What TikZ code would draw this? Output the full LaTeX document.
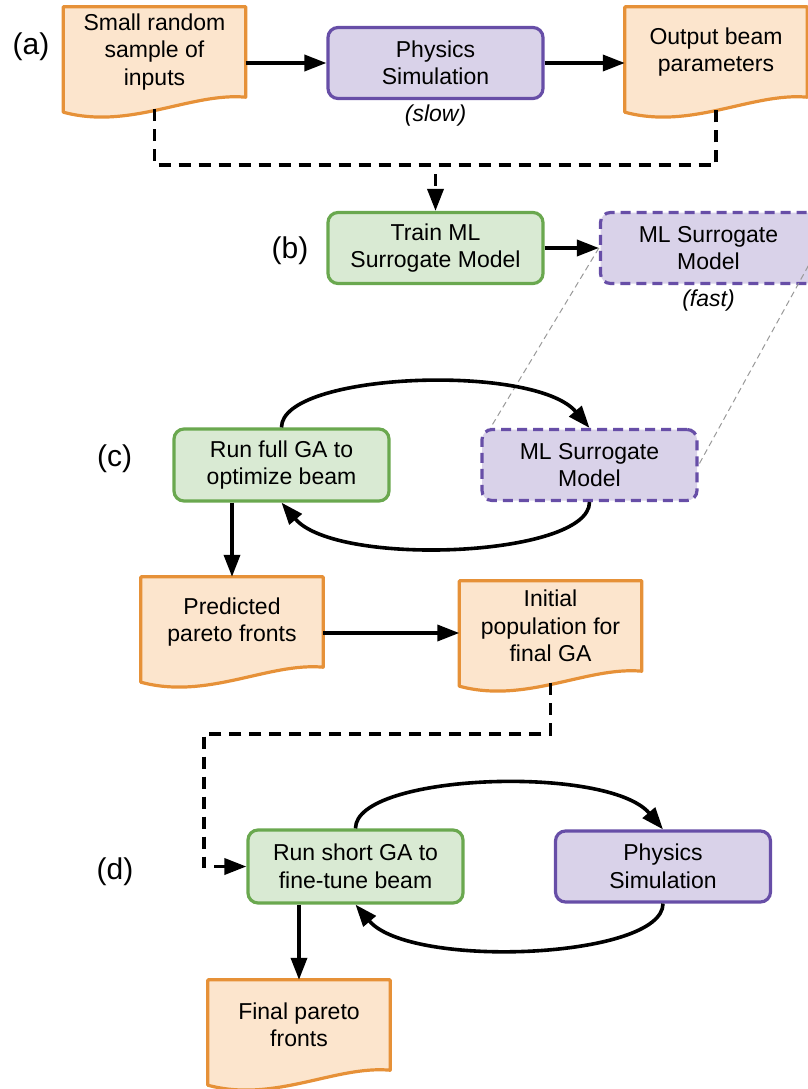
\documentclass[tikz,border=0pt]{standalone}
\usepackage{fontspec}
\setmainfont{Liberation Sans}
\usetikzlibrary{positioning,arrows.meta,backgrounds}
\definecolor{orfill}{HTML}{FCE5CD}
\definecolor{ordraw}{HTML}{E69138}
\definecolor{grfill}{HTML}{D9EAD3}
\definecolor{grdraw}{HTML}{6AA84F}
\definecolor{pufill}{HTML}{D9D2E9}
\definecolor{pudraw}{HTML}{674EA7}
\begin{document}
\begin{tikzpicture}[x=1pt,y=-1pt,
  box/.style = {rectangle, rounded corners=10pt, line width=3.2pt, minimum width=215pt, minimum height=71pt, align=center, font=\fontsize{23}{27.5}\selectfont},
  gabox/.style = {box, draw=grdraw, fill=grfill},
  simbox/.style = {box, draw=pudraw, fill=pufill},
  docbox/.style = {rectangle, minimum width=182pt, minimum height=90pt, align=center, font=\fontsize{23}{27.5}\selectfont},
  arr/.style = {line width=3.6pt, -{Triangle[length=22pt,width=16pt]}},
  dashln/.style = {line width=3.6pt, dash pattern=on 12pt off 8pt},
  greyln/.style = {line width=1pt, black!40, dash pattern=on 6pt off 4pt},
  tag/.style = {font=\fontsize{30}{36}\selectfont},
  note/.style = {font=\fontsize{23}{27.5}\selectfont\itshape}]
\useasboundingbox (0,0) rectangle (808,1089);
\clip (0,0) rectangle (808,1089);
\node[docbox] (samp) at (154.5,52) {Small random\\sample of\\inputs};
\node[simbox] (phys1) at (435.5,63) {Physics\\Simulation};
\node[docbox] (outp) [right of=samp, node distance=561.5pt] {Output beam\\parameters};
\node[note] (slow) [below of=phys1, node distance=53pt] {(slow)};
\node[gabox] (train) [below of=phys1, node distance=185pt] {Train ML\\Surrogate Model};
\node[simbox, dash pattern=on 10pt off 6pt, minimum width=216pt] (surb) [right of=train, node distance=273pt] {ML Surrogate\\Model};
\node[note] (fast) [below of=surb, node distance=53pt] {(fast)};
\node[gabox, minimum height=72pt] (rungac) at (281.5,465) {Run full GA to\\optimize beam};
\node[simbox, dash pattern=on 10pt off 6pt] (surc) [right of=rungac, node distance=308pt] {ML Surrogate\\Model};
\node[docbox] (pred) at (232,622) {Predicted\\pareto fronts};
\node[docbox] (init) at (550.5,626) {Initial\\population for\\final GA};
\node[gabox, minimum height=73pt] (rungad) at (355.5,866.5) {Run short GA to\\fine-tune beam};
\node[simbox] (physd) [right of=rungad, node distance=307.5pt] {Physics\\Simulation};
\node[docbox] (final) at (299,1025) {Final pareto\\fronts};
\node[tag] (la) at (31,47) {(a)};
\node[tag] (lb) at (290,251) {(b)};
\node[tag] (lc) at (114.5,459) {(c)};
\node[tag] (ld) at (115,872) {(d)};
\coordinate (joina) at (435.5,165);
\coordinate (turnd) at (204,734);
\coordinate (predinit) at ([yshift=-7pt]init.west);
\begin{scope}[on background layer]
\foreach \d in {samp,outp,pred,init,final}
  \draw[ordraw, fill=orfill, line width=3.2pt, line join=round] (\d.north west) -- (\d.north east) -- (\d.south east) .. controls +(-55,-5) and +(67,18) .. ([yshift=-15pt]\d.south west) -- cycle;
\end{scope}
\draw[arr] (samp.east |- phys1.west) -- (phys1.west);
\draw[arr] (phys1.east) -- (phys1.east -| outp.west);
\draw[dashln] ([yshift=-12pt]samp.south) |- (joina) -| ([yshift=-12pt]outp.south);
\draw[dashln, arr] ([yshift=-9pt]joina) -- (train.north);
\draw[arr] (train.east) -- (surb.west);
\draw[greyln] (surb.west) -- ([xshift=10pt]surc.north west);
\draw[greyln] (surb.east) -- (surc.east);
\draw[arr] (rungac.north) .. controls +(0,-55) and +(-55,-65) .. (surc.north);
\draw[arr] (surc.south) .. controls +(0,55) and +(55,65) .. (rungac.south);
\draw[arr] (pred.north |- rungac.south) -- (pred.north);
\draw[arr] (predinit -| pred.east) -- (predinit);
\draw[dashln, arr] ([yshift=-12pt]init.south) |- (turnd) |- (rungad.west);
\draw[arr] (rungad.north) .. controls +(0,-55) and +(-55,-65) .. (physd.north);
\draw[arr] (physd.south) .. controls +(0,55) and +(55,65) .. (rungad.south);
\draw[arr] (final.north |- rungad.south) -- (final.north);
\end{tikzpicture}
\end{document}
